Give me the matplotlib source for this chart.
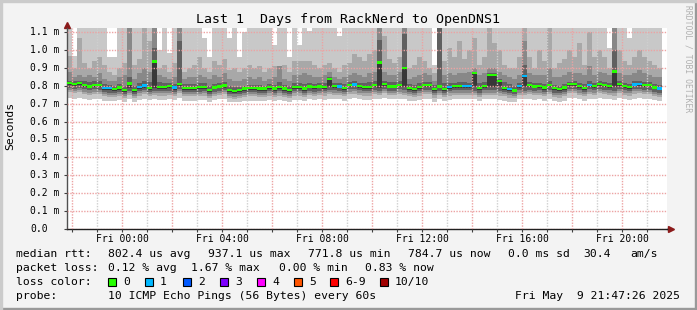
import matplotlib
matplotlib.use("Agg")  # Non-interactive backend
import matplotlib.pyplot as plt
from matplotlib.patches import Rectangle
from matplotlib.ticker import FixedLocator, NullFormatter
import numpy as np

TITLE = "Last 1  Days from RackNerd to OpenDNS1"

# one column = 12 minutes; hours relative to Fri 00:00
START_HOUR = -2.2
STEP_HOUR = 0.2

# median rtt per column (microseconds)
median_us = [
    817, 811, 817, 806, 798, 806, 804, 789, 787, 782, 790, 778, 813, 776, 795, 802, 789, 937, 795, 795,
    799, 790, 810, 788, 788, 788, 793, 795, 778, 792, 797, 802, 778, 772, 778, 785, 789, 789, 785, 785,
    795, 785, 795, 785, 778, 795, 795, 785, 798, 793, 798, 795, 840, 800, 797, 789, 806, 809, 800, 795,
    795, 804, 931, 811, 798, 798, 806, 900, 789, 784, 795, 804, 804, 782, 798, 784, 795, 800, 800, 800,
    800, 873, 787, 800, 860, 860, 829, 789, 782, 775, 800, 856, 804, 797, 800, 790, 804, 787, 782, 790,
    811, 811, 800, 789, 806, 800, 811, 804, 800, 880, 811, 800, 795, 808, 812, 804, 804, 792, 785,
]
# lost pings per column (0 = green, 1 = light blue)
loss = [
    0, 0, 0, 0, 0, 0, 0, 1, 1, 0, 0, 0, 0, 0, 1, 1, 0, 0, 0, 0,
    0, 1, 0, 0, 0, 0, 0, 0, 0, 0, 0, 0, 0, 0, 0, 0, 0, 0, 0, 0,
    0, 0, 0, 0, 0, 0, 0, 0, 0, 0, 0, 0, 0, 0, 1, 0, 0, 1, 0, 0,
    0, 0, 0, 0, 0, 0, 0, 0, 0, 0, 0, 0, 0, 0, 0, 0, 1, 0, 0, 1,
    1, 0, 0, 0, 0, 0, 0, 0, 1, 0, 1, 1, 0, 0, 0, 0, 0, 0, 0, 0,
    0, 0, 0, 0, 1, 0, 0, 0, 0, 0, 0, 0, 0, 1, 1, 0, 0, 0, 1,
]

# smoke: upper edges of the bands, outermost (lightest) first
top1_us = [
    1125, 970, 1125, 1125, 1125, 1125, 1125, 1125, 960, 960, 1125, 1125, 1125, 1125, 1125, 1125, 1125, 1125, 1000, 1125,
    985, 1125, 1125, 1125, 1125, 1125, 1125, 1070, 960, 1125, 1125, 1125, 1070, 1125, 960, 1100, 1125, 1125, 1125, 1125,
    1125, 1030, 1125, 1125, 960, 1125, 1030, 1125, 1110, 1125, 1125, 1125, 1125, 1125, 1080, 1125, 1125, 1125, 1125, 1125,
    1125, 1125, 1125, 1125, 1125, 1125, 1125, 1125, 1125, 1125, 1125, 1125, 1125, 920, 1125, 1125, 1125, 1125, 1125, 1125,
    1125, 1125, 1125, 1125, 1125, 1125, 1125, 1125, 1125, 1125, 1125, 1125, 1125, 1125, 1125, 1125, 1125, 1125, 1125, 1125,
    1125, 1125, 1125, 1125, 1125, 1125, 1125, 1125, 1010, 1125, 1125, 1125, 1070, 1125, 1125, 1125, 1125, 1125, 1125,
]
top2_us = [
    970, 900, 1070, 930, 900, 940, 960, 920, 880, 860, 900, 930, 1125, 920, 950, 1125, 1050, 1125, 900, 920,
    880, 930, 1125, 880, 900, 920, 960, 900, 880, 940, 920, 950, 890, 900, 880, 900, 920, 900, 910, 880,
    900, 910, 910, 920, 880, 940, 940, 940, 940, 920, 900, 920, 930, 900, 880, 920, 930, 980, 960, 940,
    980, 1000, 1125, 1080, 950, 930, 960, 1125, 900, 920, 960, 940, 900, 870, 1125, 940, 1010, 960, 1050, 950,
    1000, 1070, 920, 960, 1125, 1040, 1000, 920, 900, 900, 960, 1125, 960, 900, 1000, 940, 1125, 900, 930, 950,
    1000, 960, 1040, 920, 1100, 960, 1000, 960, 900, 1125, 1000, 940, 920, 960, 1000, 960, 940, 920, 900,
]
top3_us = [
    880, 850, 860, 850, 860, 850, 870, 840, 830, 830, 850, 860, 1125, 840, 870, 900, 880, 1125, 860, 850,
    840, 850, 1125, 840, 850, 850, 860, 850, 840, 860, 850, 870, 840, 830, 830, 840, 850, 840, 850, 830,
    840, 850, 910, 840, 830, 860, 860, 870, 860, 850, 850, 860, 880, 850, 840, 850, 860, 870, 860, 850,
    870, 880, 1125, 880, 860, 860, 880, 1125, 840, 850, 860, 870, 860, 830, 1125, 860, 870, 860, 870, 870,
    880, 900, 860, 870, 900, 900, 880, 860, 850, 840, 860, 1050, 870, 860, 860, 860, 900, 850, 850, 860,
    880, 870, 870, 860, 910, 860, 880, 870, 860, 1125, 870, 860, 860, 870, 890, 870, 860, 850, 850,
]
top4_us = [
    830, 825, 830, 825, 820, 825, 825, 810, 805, 800, 810, 800, 850, 800, 815, 830, 820, 1010, 820, 815,
    815, 810, 1050, 810, 810, 810, 815, 815, 800, 810, 815, 820, 800, 795, 795, 800, 805, 805, 805, 800,
    810, 805, 820, 805, 800, 815, 815, 810, 815, 810, 815, 815, 850, 815, 815, 810, 820, 825, 815, 815,
    820, 830, 1060, 830, 820, 820, 830, 1090, 810, 805, 815, 820, 820, 805, 1125, 815, 815, 815, 820, 820,
    815, 880, 815, 820, 870, 870, 840, 820, 810, 800, 815, 920, 820, 815, 815, 810, 830, 805, 800, 810,
    820, 825, 815, 810, 830, 815, 825, 820, 815, 1000, 825, 815, 810, 825, 830, 820, 820, 810, 805,
]
# darkest band runs from dark_lo up to the median
dark_lo_us = [
    805, 800, 805, 795, 788, 795, 793, 778, 776, 772, 779, 768, 790, 766, 784, 790, 778, 790, 784, 784,
    788, 779, 798, 777, 777, 777, 782, 784, 768, 781, 786, 790, 768, 762, 768, 774, 778, 778, 774, 774,
    784, 774, 784, 774, 768, 784, 784, 774, 787, 782, 787, 784, 795, 789, 786, 778, 795, 797, 789, 784,
    784, 793, 790, 799, 787, 787, 795, 795, 778, 773, 784, 793, 793, 771, 787, 773, 784, 789, 789, 789,
    789, 795, 776, 789, 795, 795, 795, 778, 771, 765, 789, 795, 793, 786, 789, 779, 793, 776, 771, 779,
    799, 799, 789, 778, 795, 789, 799, 793, 789, 795, 799, 789, 784, 797, 800, 793, 793, 781, 775,
]
# lower edges of the bands, innermost first
bot4_us = [
    790, 785, 790, 780, 775, 780, 778, 765, 763, 760, 766, 757, 770, 755, 770, 776, 765, 772, 770, 770,
    774, 766, 782, 764, 764, 764, 768, 770, 757, 768, 772, 776, 757, 752, 757, 762, 765, 765, 762, 762,
    770, 762, 770, 762, 757, 770, 770, 762, 773, 768, 773, 770, 776, 775, 772, 765, 780, 783, 775, 770,
    770, 778, 770, 785, 773, 773, 780, 775, 765, 760, 770, 778, 778, 759, 773, 760, 770, 775, 775, 775,
    775, 772, 763, 775, 775, 775, 770, 765, 759, 753, 775, 772, 778, 772, 775, 766, 778, 763, 759, 766,
    785, 785, 775, 765, 780, 775, 785, 778, 775, 770, 785, 775, 770, 782, 785, 778, 778, 767, 762,
]
bot3_us = [
    778, 773, 778, 768, 763, 768, 766, 753, 751, 748, 754, 745, 758, 743, 758, 764, 753, 760, 758, 758,
    762, 754, 770, 752, 752, 752, 756, 758, 745, 756, 760, 764, 745, 740, 745, 750, 753, 753, 750, 750,
    758, 750, 758, 750, 745, 758, 758, 750, 761, 756, 761, 758, 764, 763, 760, 753, 768, 771, 763, 758,
    758, 766, 758, 773, 761, 761, 768, 763, 753, 748, 758, 766, 766, 747, 761, 748, 758, 763, 763, 763,
    763, 760, 751, 763, 763, 763, 758, 753, 747, 741, 763, 760, 766, 760, 763, 754, 766, 751, 747, 754,
    773, 773, 763, 753, 768, 763, 773, 766, 763, 758, 773, 763, 758, 770, 773, 766, 766, 755, 750,
]
bot2_us = [
    765, 760, 765, 755, 750, 755, 753, 742, 740, 737, 744, 733, 748, 731, 746, 752, 742, 750, 746, 746,
    750, 743, 758, 741, 741, 741, 746, 746, 733, 745, 748, 752, 733, 728, 733, 738, 742, 742, 738, 738,
    746, 738, 746, 738, 733, 746, 746, 738, 748, 744, 748, 746, 752, 751, 748, 742, 755, 757, 751, 746,
    746, 753, 748, 758, 748, 748, 755, 750, 742, 736, 746, 753, 753, 735, 748, 736, 746, 750, 750, 750,
    750, 748, 740, 750, 750, 750, 746, 742, 735, 730, 750, 748, 753, 748, 750, 743, 753, 740, 735, 743,
    758, 758, 750, 742, 755, 750, 758, 753, 750, 746, 758, 750, 746, 756, 758, 753, 753, 744, 738,
]
bot1_us = [
    730, 728, 730, 725, 722, 725, 724, 718, 716, 714, 720, 712, 724, 712, 722, 726, 720, 725, 722, 722,
    726, 720, 732, 718, 718, 718, 722, 722, 712, 722, 724, 726, 712, 708, 712, 716, 718, 718, 716, 716,
    722, 716, 722, 716, 712, 722, 722, 716, 724, 720, 724, 722, 726, 726, 724, 718, 728, 730, 726, 722,
    722, 726, 724, 730, 724, 724, 728, 726, 718, 714, 722, 726, 726, 712, 724, 714, 722, 724, 724, 724,
    724, 724, 716, 724, 724, 724, 722, 718, 712, 708, 724, 724, 726, 722, 724, 718, 726, 716, 712, 718,
    730, 730, 724, 718, 728, 724, 730, 726, 724, 722, 730, 724, 722, 728, 730, 726, 726, 720, 716,
]

hour_ticks = [-2, 0, 2, 4, 6, 8, 10, 12, 14, 16, 18, 20]
hour_labels = ["", "Fri 00:00", "", "Fri 04:00", "", "Fri 08:00", "", "Fri 12:00", "", "Fri 16:00", "", "Fri 20:00"]
ytick_values = [0.0, 0.1, 0.2, 0.3, 0.4, 0.5, 0.6, 0.7, 0.8, 0.9, 1.0, 1.1]

legend_rows = [
    ("median rtt:", [(107.6, "802.4 us avg"), (207.6, "937.1 us max"), (307.6, "771.8 us min"),
                     (407.6, "784.7 us now"), (507.6, "0.0 ms sd"), (583.6, "30.4"), (630.5, "am/s")]),
    ("packet loss:", [(107.6, "0.12 % avg"), (191, "1.67 % max"), (279, "0.00 % min"), (365, "0.83 % now")]),
]
loss_labels = ["0", "1", "2", "3", "4", "5", "6-9", "10/10"]
loss_colors = ["#26ff00", "#00b8ff", "#0059ff", "#7e00ff", "#ff00ff", "#ff5500", "#ff0000", "#a10000"]
loss_box_x = [108, 145, 183, 220, 257, 294, 330, 380]
probe_text = "10 ICMP Echo Pings (56 Bytes) every 60s"
stamp_text = "Fri May  9 21:47:26 2025"

BAND_COLORS = ["#c8c8c8", "#a8a8a8", "#888888", "#606060", "#383838"]
RED_GRID = "#eca3a3"
GRAY_GRID = "#cfcfcf"
MONO = "DejaVu Sans Mono"

W, H = 697, 310
fig = plt.figure(figsize=(W / 100, H / 100), dpi=100, facecolor="#f3f3f3")

# rrdtool style 3d frame
fig.patches.append(Rectangle((0, 0), 1, 2 / H, transform=fig.transFigure, color="#999999", zorder=5))
fig.patches.append(Rectangle((1 - 2 / W, 0), 2 / W, 1, transform=fig.transFigure, color="#999999", zorder=5))
fig.patches.append(Rectangle((0, 1 - 2 / H), 1, 2 / H, transform=fig.transFigure, color="#cbcbcb", zorder=5))
fig.patches.append(Rectangle((0, 0), 2 / W, 1, transform=fig.transFigure, color="#cbcbcb", zorder=5))

ax_top, ax_bottom = 28.0, 228.5
ax = fig.add_axes([67 / W, (H - ax_bottom) / H, 600 / W, (ax_bottom - ax_top) / H])
ax.set_facecolor("white")
ymax = 1.125
ax.set_xlim(START_HOUR, START_HOUR + 24)
ax.set_ylim(0, ymax)

n = len(median_us)
x = START_HOUR + STEP_HOUR * np.arange(n)
ms = lambda arr: np.asarray(arr, dtype=float) / 1000.0

med = ms(median_us)
bands = [
    (ms(bot1_us), ms(top1_us)),
    (ms(bot2_us), ms(top2_us)),
    (ms(bot3_us), ms(top3_us)),
    (ms(bot4_us), ms(top4_us)),
    (ms(dark_lo_us), med),
]
for (lo, hi), color in zip(bands, BAND_COLORS):
    ax.bar(x, hi - lo, bottom=lo, width=STEP_HOUR, align="edge", color=color,
           linewidth=0, antialiased=False, zorder=1)

# median drawn as a thick bar coloured by loss
ms_per_px = ymax / (ax_bottom - ax_top)
half = 1.25 * ms_per_px
loss_arr = np.asarray(loss)
for level in np.unique(loss_arr):
    sel = loss_arr == level
    ax.bar(x[sel], 2 * half, bottom=med[sel] - half, width=STEP_HOUR, align="edge",
           color=loss_colors[level], linewidth=0, antialiased=False, zorder=3)

# grid
ax.set_axisbelow(False)
ax.xaxis.set_major_locator(FixedLocator(hour_ticks))
ax.xaxis.set_minor_locator(FixedLocator([h + 1 for h in hour_ticks]))
ax.set_xticklabels(hour_labels, fontsize=7, family=MONO)
ax.xaxis.set_minor_formatter(NullFormatter())
ax.set_yticks(ytick_values)
ax.set_yticklabels([])
ax.grid(which="major", axis="both", color=RED_GRID, linestyle=(0, (1, 1)), linewidth=1, zorder=2)
ax.grid(which="minor", axis="x", color=GRAY_GRID, linestyle=(0, (1, 1)), linewidth=1, zorder=2)
ax.tick_params(axis="x", which="both", direction="out", length=2.5, width=0.8, color="#404040", pad=1.8)
ax.tick_params(axis="y", direction="out", length=2.5, width=0.8, color="#404040")

for v in ytick_values:
    label = "0.0" if v == 0 else f"{v:.1f} m"
    ax.text(-37 / 600, v, label, transform=ax.get_yaxis_transform(), ha="left", va="center",
            fontsize=7, family=MONO)

for side in ("top", "right"):
    ax.spines[side].set_visible(False)
ax.spines["left"].set_color("#505050")
ax.spines["bottom"].set_color("#202020")
ax.spines["left"].set_linewidth(1)
ax.spines["bottom"].set_linewidth(1)

# axis arrows
ax.plot([0], [1 + 3 / 200], marker="^", markersize=4, color="#8b1a1a", transform=ax.transAxes, clip_on=False)
ax.plot([1, 1 + 3 / 600], [0, 0], color="#202020", linewidth=1, transform=ax.transAxes, clip_on=False)
ax.plot([1 + 4 / 600], [0], marker=">", markersize=4, color="#8b1a1a", transform=ax.transAxes, clip_on=False)

# texts
fy = lambda py: 1 - py / H
fig.text(348 / W, fy(19.5), TITLE, ha="center", va="center", fontsize=9.5, family=MONO)
fig.text(10 / W, fy(126), "Seconds", rotation=90, ha="center", va="center", fontsize=8.2, family=MONO)
fig.text(688 / W, fy(59), "RRDTOOL / TOBI OETIKER", rotation=-90, ha="center", va="center",
         fontsize=5.8, family=MONO, color="#b0b0b0")

row_y = [254, 268]
for (head, items), py in zip(legend_rows, row_y):
    fig.text(16 / W, fy(py), head, ha="left", va="center", fontsize=8.2, family=MONO)
    for px, txt in items:
        fig.text(px / W, fy(py), txt, ha="left", va="center", fontsize=8.2, family=MONO)

fig.text(16 / W, fy(282), "loss color:", ha="left", va="center", fontsize=8.2, family=MONO)
for bx, lab, col in zip(loss_box_x, loss_labels, loss_colors):
    fig.patches.append(Rectangle((bx / W, fy(286)), 8 / W, 8 / H, transform=fig.transFigure,
                                 facecolor=col, edgecolor="black", linewidth=0.8))
    fig.text((bx + 15) / W, fy(282), lab, ha="left", va="center", fontsize=8.2, family=MONO)

fig.text(16 / W, fy(296), "probe:", ha="left", va="center", fontsize=8.2, family=MONO)
fig.text(107.6 / W, fy(296), probe_text, ha="left", va="center", fontsize=8.2, family=MONO)
fig.text(680 / W, fy(296), stamp_text, ha="right", va="center", fontsize=8.2, family=MONO)

fig.savefig("out.png", dpi=100, facecolor=fig.get_facecolor())
